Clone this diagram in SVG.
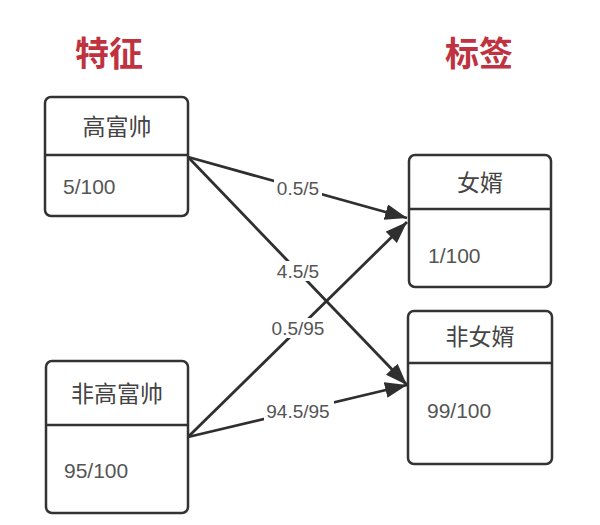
<svg xmlns="http://www.w3.org/2000/svg" width="600" height="525" viewBox="0 0 600 525">
<style>
.box{fill:#fff;stroke:#333;stroke-width:2.5}
.div{stroke:#333;stroke-width:2.5}
.title{font-family:"Noto Sans CJK SC","Noto Sans",sans-serif;font-size:34px;font-weight:bold;fill:#bf3340;text-anchor:middle}
.head{font-family:"Noto Sans CJK SC","Noto Sans",sans-serif;font-size:23px;fill:#444;text-anchor:middle}
.val{font-family:"Liberation Sans","Noto Sans CJK SC",sans-serif;font-size:21px;fill:#555}
.edge{stroke:#2f2f2f;stroke-width:2.8;fill:none;marker-end:url(#arr)}
.lbl{font-family:"Liberation Sans",sans-serif;font-size:19px;fill:#555;text-anchor:middle}
.bg{fill:#fff}
</style>
<defs>
<marker id="arr" markerUnits="userSpaceOnUse" markerWidth="24" markerHeight="18" refX="22" refY="8" orient="auto">
<path d="M0,0 L22,8 L0,16 Z" fill="#2f2f2f"/>
</marker>
</defs>
<rect width="600" height="525" fill="#fff"/>
<text class="title" x="109" y="66">特征</text>
<text class="title" x="479" y="66">标签</text>
<g id="connectors">
<line class="edge" x1="188" y1="157" x2="407" y2="218"/>
<line class="edge" x1="188" y1="157" x2="407" y2="385"/>
<line class="edge" x1="188" y1="437" x2="407" y2="222"/>
<line class="edge" x1="188" y1="437" x2="407" y2="385"/>
<rect class="bg" x="274" y="178" width="48" height="20"/>
<text class="lbl" x="298" y="195">0.5/5</text>
<rect class="bg" x="274" y="261" width="48" height="20"/>
<text class="lbl" x="298" y="278">4.5/5</text>
<rect class="bg" x="267" y="318" width="62" height="20"/>
<text class="lbl" x="298" y="335">0.5/95</text>
<rect class="bg" x="264" y="401" width="70" height="20"/>
<text class="lbl" x="298" y="418">94.5/95</text>
</g>
<g id="gfs">
<rect class="box" x="45" y="97" width="143" height="119" rx="6"/>
<line class="div" x1="45" y1="155" x2="188" y2="155"/>
<text class="head" x="117" y="135">高富帅</text>
<text class="val" x="63" y="194">5/100</text>
</g>
<g id="fgfs">
<rect class="box" x="46" y="361" width="142" height="152" rx="6"/>
<line class="div" x1="46" y1="425" x2="188" y2="425"/>
<text class="head" x="117" y="402">非高富帅</text>
<text class="val" x="64" y="478">95/100</text>
</g>
<g id="nx">
<rect class="box" x="409" y="155" width="142" height="132" rx="6"/>
<line class="div" x1="409" y1="209" x2="551" y2="209"/>
<text class="head" x="480" y="191">女婿</text>
<text class="val" x="428" y="263">1/100</text>
</g>
<g id="fnx">
<rect class="box" x="408" y="311" width="144" height="153" rx="6"/>
<line class="div" x1="408" y1="363" x2="552" y2="363"/>
<text class="head" x="480" y="345">非女婿</text>
<text class="val" x="427" y="418">99/100</text>
</g>
</svg>
